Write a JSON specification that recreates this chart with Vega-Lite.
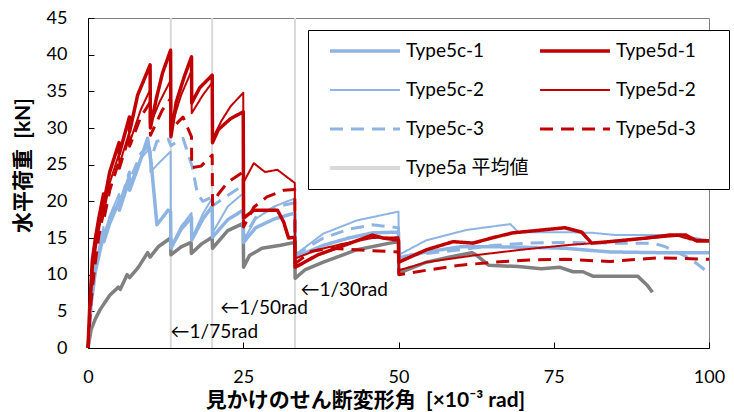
{
  "$schema": "https://vega.github.io/schema/vega-lite/v6.json",
  "width": 621,
  "height": 330,
  "autosize": {"type": "none"},
  "padding": {"left": 88, "top": 18, "right": 25, "bottom": 64},
  "background": "#ffffff",
  "config": {
    "font": "Lato, 'Noto Sans CJK JP'",
    "view": {"stroke": "#7f7f7f", "strokeWidth": 1},
    "axis": {
      "domainColor": "#000000", "domainWidth": 1, "tickColor": "#000000", "tickWidth": 1, "tickSize": -6,
      "grid": false, "labelFont": "Lato, 'Noto Sans CJK JP'", "labelFontSize": 18, "labelColor": "#000000", "labelFlush": false,
      "titleFont": "Lato, 'Noto Sans CJK JP'", "titleFontSize": 21, "titleFontWeight": "bold", "titleColor": "#000000"
    }
  },
  "datasets": {
    "curves": [
      {"s":"Type5a 平均値","x":0,"y":0},{"s":"Type5a 平均値","x":0.5,"y":2.5},{"s":"Type5a 平均値","x":1.2,"y":4.0},{"s":"Type5a 平均値","x":2,"y":5.3},{"s":"Type5a 平均値","x":2.8,"y":6.3},{"s":"Type5a 平均値","x":3.5,"y":7.2},{"s":"Type5a 平均値","x":4.9,"y":8.3},{"s":"Type5a 平均値","x":5.2,"y":8.0},{"s":"Type5a 平均値","x":6.3,"y":10.0},{"s":"Type5a 平均値","x":6.7,"y":9.6},{"s":"Type5a 平均値","x":8.1,"y":11.0},{"s":"Type5a 平均値","x":9.6,"y":13.0},{"s":"Type5a 平均値","x":10,"y":12.4},{"s":"Type5a 平均値","x":11.3,"y":13.8},{"s":"Type5a 平均値","x":13.3,"y":15.0},{"s":"Type5a 平均値","x":13.35,"y":12.7},{"s":"Type5a 平均値","x":15,"y":13.8},{"s":"Type5a 平均値","x":16.6,"y":14.4},{"s":"Type5a 平均値","x":16.65,"y":12.9},{"s":"Type5a 平均値","x":18.3,"y":14.2},{"s":"Type5a 平均値","x":20,"y":15.1},{"s":"Type5a 平均値","x":20.05,"y":13.6},{"s":"Type5a 平均値","x":22.5,"y":16.0},{"s":"Type5a 平均値","x":25,"y":17.0},{"s":"Type5a 平均値","x":25.05,"y":11.0},{"s":"Type5a 平均値","x":26,"y":12.6},{"s":"Type5a 平均値","x":28,"y":13.6},{"s":"Type5a 平均値","x":31,"y":14.0},{"s":"Type5a 平均値","x":33.3,"y":14.4},{"s":"Type5a 平均値","x":33.35,"y":9.5},{"s":"Type5a 平均値","x":35,"y":10.7},{"s":"Type5a 平均値","x":37.9,"y":11.7},{"s":"Type5a 平均値","x":43.3,"y":13.4},{"s":"Type5a 平均値","x":48.6,"y":14.3},{"s":"Type5a 平均値","x":50,"y":14.5},{"s":"Type5a 平均値","x":50.05,"y":10.2},{"s":"Type5a 平均値","x":54.5,"y":11.7},{"s":"Type5a 平均値","x":58.3,"y":12.4},{"s":"Type5a 平均値","x":61.8,"y":13.0},{"s":"Type5a 平均値","x":62.5,"y":12.7},{"s":"Type5a 平均値","x":64.5,"y":11.3},{"s":"Type5a 平均値","x":69.3,"y":11.1},{"s":"Type5a 平均値","x":73,"y":10.8},{"s":"Type5a 平均値","x":76,"y":11.0},{"s":"Type5a 平均値","x":78.1,"y":10.4},{"s":"Type5a 平均値","x":79.7,"y":10.4},{"s":"Type5a 平均値","x":81.3,"y":9.8},{"s":"Type5a 平均値","x":88.5,"y":9.8},{"s":"Type5a 平均値","x":90,"y":8.6},{"s":"Type5a 平均値","x":90.9,"y":7.6},

      {"s":"Type5c-1","x":0,"y":0},{"s":"Type5c-1","x":0.5,"y":6},{"s":"Type5c-1","x":1.2,"y":10.5},{"s":"Type5c-1","x":2,"y":13.5},{"s":"Type5c-1","x":2.5,"y":15.5},{"s":"Type5c-1","x":2.55,"y":14.5},{"s":"Type5c-1","x":3.5,"y":17},{"s":"Type5c-1","x":5,"y":20},{"s":"Type5c-1","x":5.05,"y":18.8},{"s":"Type5c-1","x":6.67,"y":23},{"s":"Type5c-1","x":6.7,"y":21.5},{"s":"Type5c-1","x":8,"y":24.5},{"s":"Type5c-1","x":9.6,"y":28.6},{"s":"Type5c-1","x":10.2,"y":25},{"s":"Type5c-1","x":11.1,"y":16.8},{"s":"Type5c-1","x":12.9,"y":18.8},{"s":"Type5c-1","x":13.3,"y":18.6},{"s":"Type5c-1","x":13.35,"y":13.6},{"s":"Type5c-1","x":15,"y":16.2},{"s":"Type5c-1","x":16.67,"y":17.8},{"s":"Type5c-1","x":16.7,"y":14.7},{"s":"Type5c-1","x":18.5,"y":17.6},{"s":"Type5c-1","x":20,"y":19.3},{"s":"Type5c-1","x":20.05,"y":15.1},{"s":"Type5c-1","x":22.5,"y":17.5},{"s":"Type5c-1","x":25,"y":18.8},{"s":"Type5c-1","x":25.05,"y":14.4},{"s":"Type5c-1","x":27,"y":16.4},{"s":"Type5c-1","x":30,"y":17.6},{"s":"Type5c-1","x":33.3,"y":18.4},{"s":"Type5c-1","x":33.35,"y":12.4},{"s":"Type5c-1","x":37.9,"y":14.0},{"s":"Type5c-1","x":42,"y":15.0},{"s":"Type5c-1","x":45.8,"y":15.7},{"s":"Type5c-1","x":50,"y":15.8},{"s":"Type5c-1","x":50.05,"y":12.3},{"s":"Type5c-1","x":54.5,"y":13.1},{"s":"Type5c-1","x":60,"y":13.8},{"s":"Type5c-1","x":66,"y":13.8},{"s":"Type5c-1","x":72,"y":13.7},{"s":"Type5c-1","x":76.8,"y":13.6},{"s":"Type5c-1","x":84,"y":13.1},{"s":"Type5c-1","x":92,"y":13.0},{"s":"Type5c-1","x":100,"y":13.0},

      {"s":"Type5c-2","x":0,"y":0},{"s":"Type5c-2","x":0.5,"y":7},{"s":"Type5c-2","x":1.2,"y":11.5},{"s":"Type5c-2","x":2,"y":14.5},{"s":"Type5c-2","x":2.5,"y":16.5},{"s":"Type5c-2","x":2.55,"y":15.3},{"s":"Type5c-2","x":3.5,"y":18},{"s":"Type5c-2","x":5,"y":21},{"s":"Type5c-2","x":5.05,"y":19.6},{"s":"Type5c-2","x":6.67,"y":23.8},{"s":"Type5c-2","x":6.7,"y":22.3},{"s":"Type5c-2","x":8.5,"y":25.8},{"s":"Type5c-2","x":10,"y":27.3},{"s":"Type5c-2","x":10.05,"y":24},{"s":"Type5c-2","x":11.5,"y":25.3},{"s":"Type5c-2","x":13.3,"y":26.8},{"s":"Type5c-2","x":13.35,"y":13.8},{"s":"Type5c-2","x":15,"y":16.6},{"s":"Type5c-2","x":16.67,"y":18.4},{"s":"Type5c-2","x":16.7,"y":14.9},{"s":"Type5c-2","x":18.5,"y":18.3},{"s":"Type5c-2","x":20,"y":20.4},{"s":"Type5c-2","x":20.05,"y":15.7},{"s":"Type5c-2","x":22.5,"y":19.3},{"s":"Type5c-2","x":25,"y":21.1},{"s":"Type5c-2","x":25.05,"y":14.7},{"s":"Type5c-2","x":27,"y":17.6},{"s":"Type5c-2","x":30,"y":19.3},{"s":"Type5c-2","x":33.3,"y":20.4},{"s":"Type5c-2","x":33.35,"y":12.7},{"s":"Type5c-2","x":37.9,"y":15.6},{"s":"Type5c-2","x":43.3,"y":17.4},{"s":"Type5c-2","x":50,"y":18.6},{"s":"Type5c-2","x":50.05,"y":12.7},{"s":"Type5c-2","x":54.5,"y":14.7},{"s":"Type5c-2","x":61,"y":16.1},{"s":"Type5c-2","x":68,"y":16.9},{"s":"Type5c-2","x":69.3,"y":15.8},{"s":"Type5c-2","x":76.8,"y":15.8},{"s":"Type5c-2","x":81.3,"y":15.7},{"s":"Type5c-2","x":85,"y":15.4},{"s":"Type5c-2","x":93.6,"y":15.4},{"s":"Type5c-2","x":97,"y":15.1},{"s":"Type5c-2","x":100,"y":14.7},

      {"s":"Type5c-3","x":0,"y":0},{"s":"Type5c-3","x":0.5,"y":6.5},{"s":"Type5c-3","x":1.2,"y":11},{"s":"Type5c-3","x":2,"y":14},{"s":"Type5c-3","x":2.5,"y":16},{"s":"Type5c-3","x":2.55,"y":15},{"s":"Type5c-3","x":3.5,"y":17.8},{"s":"Type5c-3","x":5,"y":20.8},{"s":"Type5c-3","x":5.05,"y":19.5},{"s":"Type5c-3","x":6.67,"y":24},{"s":"Type5c-3","x":6.7,"y":22.8},{"s":"Type5c-3","x":8.5,"y":26.5},{"s":"Type5c-3","x":10,"y":27.8},{"s":"Type5c-3","x":10.05,"y":25.5},{"s":"Type5c-3","x":11.1,"y":28.2},{"s":"Type5c-3","x":12.9,"y":28.5},{"s":"Type5c-3","x":13.35,"y":27.6},{"s":"Type5c-3","x":15.3,"y":28.6},{"s":"Type5c-3","x":16.8,"y":24.7},{"s":"Type5c-3","x":17.6,"y":21.1},{"s":"Type5c-3","x":18.5,"y":20},{"s":"Type5c-3","x":20,"y":20.6},{"s":"Type5c-3","x":20.05,"y":19.4},{"s":"Type5c-3","x":22.5,"y":20.8},{"s":"Type5c-3","x":25,"y":22.2},{"s":"Type5c-3","x":25.05,"y":15},{"s":"Type5c-3","x":27,"y":17.8},{"s":"Type5c-3","x":30,"y":19.2},{"s":"Type5c-3","x":33.3,"y":19.8},{"s":"Type5c-3","x":33.35,"y":12.7},{"s":"Type5c-3","x":37.9,"y":15.0},{"s":"Type5c-3","x":42,"y":16.2},{"s":"Type5c-3","x":45.8,"y":16.8},{"s":"Type5c-3","x":50,"y":16.4},{"s":"Type5c-3","x":50.05,"y":12.4},{"s":"Type5c-3","x":54.5,"y":12.9},{"s":"Type5c-3","x":60,"y":13.4},{"s":"Type5c-3","x":65.5,"y":14.0},{"s":"Type5c-3","x":71,"y":14.3},{"s":"Type5c-3","x":76.8,"y":14.4},{"s":"Type5c-3","x":84,"y":14.3},{"s":"Type5c-3","x":91,"y":14.3},{"s":"Type5c-3","x":93,"y":13.8},{"s":"Type5c-3","x":97,"y":12.2},{"s":"Type5c-3","x":100,"y":10.2},

      {"s":"Type5d-3","x":0,"y":0},{"s":"Type5d-3","x":0.4,"y":5.5},{"s":"Type5d-3","x":1,"y":10.5},{"s":"Type5d-3","x":1.7,"y":15},{"s":"Type5d-3","x":2.5,"y":18.5},{"s":"Type5d-3","x":2.55,"y":17.5},{"s":"Type5d-3","x":3.5,"y":21.5},{"s":"Type5d-3","x":5,"y":25.5},{"s":"Type5d-3","x":5.05,"y":24.5},{"s":"Type5d-3","x":6.67,"y":29},{"s":"Type5d-3","x":6.7,"y":27.5},{"s":"Type5d-3","x":8.5,"y":31.5},{"s":"Type5d-3","x":10,"y":33.5},{"s":"Type5d-3","x":10.05,"y":29},{"s":"Type5d-3","x":12,"y":32.5},{"s":"Type5d-3","x":13.3,"y":34},{"s":"Type5d-3","x":13.35,"y":29.8},{"s":"Type5d-3","x":15.3,"y":31.5},{"s":"Type5d-3","x":16.67,"y":28.8},{"s":"Type5d-3","x":16.7,"y":24.6},{"s":"Type5d-3","x":18.2,"y":24.8},{"s":"Type5d-3","x":20,"y":26.3},{"s":"Type5d-3","x":20.05,"y":19.5},{"s":"Type5d-3","x":21,"y":21},{"s":"Type5d-3","x":22.5,"y":22.6},{"s":"Type5d-3","x":25,"y":24.0},{"s":"Type5d-3","x":25.05,"y":16.5},{"s":"Type5d-3","x":26.7,"y":19.2},{"s":"Type5d-3","x":28.8,"y":20.6},{"s":"Type5d-3","x":31.5,"y":21.5},{"s":"Type5d-3","x":33.3,"y":21.6},{"s":"Type5d-3","x":33.35,"y":11.5},{"s":"Type5d-3","x":36,"y":13.2},{"s":"Type5d-3","x":39,"y":13.6},{"s":"Type5d-3","x":45,"y":13.3},{"s":"Type5d-3","x":50,"y":13.1},{"s":"Type5d-3","x":50.05,"y":10.0},{"s":"Type5d-3","x":54.5,"y":10.6},{"s":"Type5d-3","x":60,"y":11.3},{"s":"Type5d-3","x":65.5,"y":11.7},{"s":"Type5d-3","x":71,"y":12.0},{"s":"Type5d-3","x":76.8,"y":12.1},{"s":"Type5d-3","x":84,"y":11.8},{"s":"Type5d-3","x":92,"y":12.3},{"s":"Type5d-3","x":100,"y":12.1},

      {"s":"Type5d-2","x":0,"y":0},{"s":"Type5d-2","x":0.4,"y":6},{"s":"Type5d-2","x":0.8,"y":11},{"s":"Type5d-2","x":1.5,"y":15},{"s":"Type5d-2","x":2.5,"y":19.5},{"s":"Type5d-2","x":2.55,"y":18.5},{"s":"Type5d-2","x":3.5,"y":22.5},{"s":"Type5d-2","x":5,"y":26.5},{"s":"Type5d-2","x":5.05,"y":25},{"s":"Type5d-2","x":6.67,"y":29.5},{"s":"Type5d-2","x":6.7,"y":28},{"s":"Type5d-2","x":8.5,"y":32.5},{"s":"Type5d-2","x":10,"y":35.2},{"s":"Type5d-2","x":10.05,"y":30.5},{"s":"Type5d-2","x":11.5,"y":33.5},{"s":"Type5d-2","x":13.3,"y":36.5},{"s":"Type5d-2","x":13.35,"y":30},{"s":"Type5d-2","x":15,"y":34.5},{"s":"Type5d-2","x":16.67,"y":37.8},{"s":"Type5d-2","x":16.7,"y":32},{"s":"Type5d-2","x":18.5,"y":34.5},{"s":"Type5d-2","x":20,"y":36.2},{"s":"Type5d-2","x":20.05,"y":28.5},{"s":"Type5d-2","x":21.5,"y":31},{"s":"Type5d-2","x":23,"y":33},{"s":"Type5d-2","x":25,"y":34.8},{"s":"Type5d-2","x":25.05,"y":22.6},{"s":"Type5d-2","x":26.7,"y":25.2},{"s":"Type5d-2","x":28.5,"y":24.0},{"s":"Type5d-2","x":30.5,"y":24.3},{"s":"Type5d-2","x":33.3,"y":22.5},{"s":"Type5d-2","x":33.35,"y":12.2},{"s":"Type5d-2","x":37,"y":13.4},{"s":"Type5d-2","x":41,"y":14.2},{"s":"Type5d-2","x":45.8,"y":15.0},{"s":"Type5d-2","x":50,"y":15.1},{"s":"Type5d-2","x":50.05,"y":10.6},{"s":"Type5d-2","x":54.5,"y":11.7},{"s":"Type5d-2","x":62.8,"y":12.7},{"s":"Type5d-2","x":69.8,"y":13.4},{"s":"Type5d-2","x":76.8,"y":14.0},{"s":"Type5d-2","x":81.3,"y":14.3},{"s":"Type5d-2","x":88,"y":14.8},{"s":"Type5d-2","x":95,"y":15.3},{"s":"Type5d-2","x":97,"y":14.8},{"s":"Type5d-2","x":100,"y":14.7},

      {"s":"Type5d-1","x":0,"y":0},{"s":"Type5d-1","x":0.3,"y":6},{"s":"Type5d-1","x":0.7,"y":12},{"s":"Type5d-1","x":1.2,"y":15},{"s":"Type5d-1","x":1.7,"y":17.5},{"s":"Type5d-1","x":2.5,"y":21},{"s":"Type5d-1","x":2.55,"y":19.8},{"s":"Type5d-1","x":3.5,"y":24},{"s":"Type5d-1","x":5,"y":28},{"s":"Type5d-1","x":5.05,"y":26.5},{"s":"Type5d-1","x":6.67,"y":31.5},{"s":"Type5d-1","x":6.7,"y":29.5},{"s":"Type5d-1","x":8,"y":34.5},{"s":"Type5d-1","x":10,"y":38.6},{"s":"Type5d-1","x":10.05,"y":30.0},{"s":"Type5d-1","x":11,"y":34},{"s":"Type5d-1","x":12,"y":37.5},{"s":"Type5d-1","x":13.3,"y":40.6},{"s":"Type5d-1","x":13.35,"y":28.8},{"s":"Type5d-1","x":14.2,"y":33.5},{"s":"Type5d-1","x":15.5,"y":37},{"s":"Type5d-1","x":16.67,"y":39.7},{"s":"Type5d-1","x":16.7,"y":33.4},{"s":"Type5d-1","x":18,"y":35.5},{"s":"Type5d-1","x":20,"y":37.2},{"s":"Type5d-1","x":20.05,"y":28},{"s":"Type5d-1","x":21,"y":29.8},{"s":"Type5d-1","x":23,"y":31.3},{"s":"Type5d-1","x":25,"y":32.2},{"s":"Type5d-1","x":25.05,"y":17.7},{"s":"Type5d-1","x":26.7,"y":18.8},{"s":"Type5d-1","x":30.5,"y":18.8},{"s":"Type5d-1","x":31.5,"y":17.2},{"s":"Type5d-1","x":32.3,"y":15.0},{"s":"Type5d-1","x":33.3,"y":15.1},{"s":"Type5d-1","x":33.35,"y":11.0},{"s":"Type5d-1","x":37,"y":12.7},{"s":"Type5d-1","x":40.6,"y":13.8},{"s":"Type5d-1","x":45.8,"y":15.4},{"s":"Type5d-1","x":47.5,"y":15.0},{"s":"Type5d-1","x":50,"y":14.7},{"s":"Type5d-1","x":50.05,"y":11.7},{"s":"Type5d-1","x":54.5,"y":13.4},{"s":"Type5d-1","x":58.8,"y":14.5},{"s":"Type5d-1","x":62,"y":14.3},{"s":"Type5d-1","x":65,"y":15.0},{"s":"Type5d-1","x":68.4,"y":15.7},{"s":"Type5d-1","x":72,"y":16.0},{"s":"Type5d-1","x":76.8,"y":16.4},{"s":"Type5d-1","x":79.5,"y":15.8},{"s":"Type5d-1","x":81.1,"y":14.3},{"s":"Type5d-1","x":84,"y":14.5},{"s":"Type5d-1","x":90,"y":15.0},{"s":"Type5d-1","x":93.6,"y":15.4},{"s":"Type5d-1","x":96.3,"y":15.4},{"s":"Type5d-1","x":98,"y":14.6},{"s":"Type5d-1","x":100,"y":14.6}
    ]
  },
  "encoding": {
    "x": {"field": "x", "type": "quantitative", "scale": {"domain": [0, 100], "nice": false},
      "axis": {"values": [0, 25, 50, 75, 100], "labelPadding": 26, "title": "見かけのせん断変形角\u00a0\u00a0[×10⁻³ rad]", "titleX": 277, "titleY": 52, "titleBaseline": "middle"}},
    "y": {"field": "y", "type": "quantitative", "scale": {"domain": [0, 45], "nice": false},
      "axis": {"values": [0, 5, 10, 15, 20, 25, 30, 35, 40, 45], "labelPadding": 27, "title": "水平荷重\u00a0\u00a0[kN]", "titleAngle": 270, "titleX": -65, "titleY": 147, "titleBaseline": "middle"}}
  },
  "layer": [
    {
      "data": {"values": [{"x": 13.333, "y": 0, "y2": 45}, {"x": 20, "y": 0, "y2": 45}, {"x": 33.333, "y": 0, "y2": 45}]},
      "mark": {"type": "rule", "color": "#d9d9d9", "strokeWidth": 2},
      "encoding": {"y2": {"field": "y2"}}
    },
    {
      "data": {"name": "curves"},
      "transform": [{"filter": "datum.s === 'Type5a 平均値'"}],
      "mark": {"type": "line", "strokeJoin": "round", "color": "#808080", "strokeWidth": 3.5},
      "encoding": {}
    },
    {
      "data": {"name": "curves"},
      "transform": [{"filter": "datum.s !== 'Type5a 平均値'"}],
      "mark": {"type": "line", "strokeJoin": "round"},
      "encoding": {
        "color": {"field": "s", "type": "nominal",
          "scale": {"domain": ["Type5c-1", "Type5c-2", "Type5c-3", "Type5a 平均値", "Type5d-1", "Type5d-2", "Type5d-3"],
                    "range": ["#8db4e2", "#8db4e2", "#8db4e2", "#d9d9d9", "#c00000", "#c00000", "#c00000"]},
          "legend": {"title": "\u00a0", "titleOrient": "right", "titlePadding": 22, "orient": "none", "legendX": 220, "legendY": 12, "columns": 2,
            "symbolType": "stroke", "symbolSize": 4900, "clipHeight": 20, "rowPadding": 19, "columnPadding": 0, "padding": 11,
            "strokeColor": "#000000", "fillColor": "#ffffff", "symbolOffset": 9, "labelOffset": 4,
            "labelFont": "Lato, 'Noto Sans CJK JP'", "labelFontSize": 19, "labelFontWeight": "normal", "labelColor": "#000000", "labelLimit": 300,
            "encode": {"symbols": {"update": {"strokeWidth": [
              {"test": "datum.value === 'Type5c-2' || datum.value === 'Type5d-2'", "value": 2},
              {"test": "datum.value === 'Type5c-3' || datum.value === 'Type5d-3'", "value": 3},
              {"test": "datum.value === 'Type5a 平均値'", "value": 4},
              {"value": 3.5}]}}}}},
        "strokeDash": {"field": "s", "type": "nominal",
          "scale": {"domain": ["Type5c-1", "Type5c-2", "Type5c-3", "Type5a 平均値", "Type5d-1", "Type5d-2", "Type5d-3"],
                    "range": [[1, 0], [1, 0], [13, 8], [1, 0], [1, 0], [1, 0], [13, 8]]}},
        "strokeWidth": {"field": "s", "type": "nominal", "legend": null,
          "scale": {"type": "ordinal", "domain": ["Type5c-1", "Type5c-2", "Type5c-3", "Type5a 平均値", "Type5d-1", "Type5d-2", "Type5d-3"],
                    "range": [3.5, 2, 3, 4, 3.5, 2, 3]}}
      }
    },
    {
      "data": {"values": [{"t": "←1/75rad", "x": 13.3, "y": 2.25}, {"t": "←1/50rad", "x": 21.3, "y": 5.4}, {"t": "←1/30rad", "x": 34.2, "y": 7.9}]},
      "mark": {"type": "text", "align": "left", "baseline": "middle", "fontSize": 19, "color": "#000000", "font": "Lato, 'Noto Sans CJK JP'"},
      "encoding": {"text": {"field": "t"}}
    }
  ]
}
